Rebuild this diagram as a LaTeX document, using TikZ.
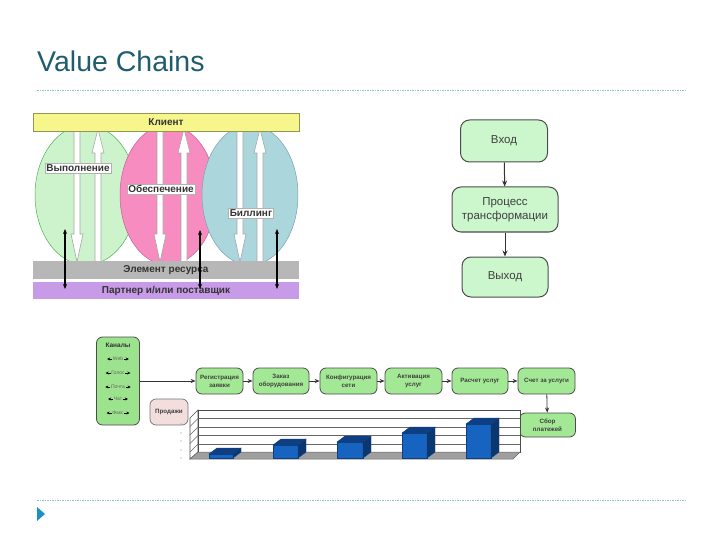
\documentclass[tikz,border=0pt]{standalone}
\usepackage{fontspec}
\setmainfont{Liberation Sans}
\usetikzlibrary{arrows.meta,calc}
\definecolor{titlec}{HTML}{1F5C6E}
\definecolor{dashc}{HTML}{8CC4C8}
\definecolor{tri}{HTML}{1A8FC8}
\definecolor{yel}{HTML}{F6F68C}
\definecolor{elgreen}{HTML}{CCF3CC}
\definecolor{elpink}{HTML}{F78CC0}
\definecolor{elblue}{HTML}{AAD6DC}
\definecolor{resgray}{HTML}{B7B7B7}
\definecolor{purp}{HTML}{C79BE8}
\definecolor{flowg}{HTML}{CCF6CC}
\definecolor{boxg}{HTML}{A3E894}
\definecolor{chang}{HTML}{9BE38C}
\definecolor{salesp}{HTML}{F3DEDE}
\definecolor{barf}{HTML}{1763C0}
\definecolor{bard}{HTML}{0E3F82}
\newcommand\hollowdown[3]{\draw[warrow] (#1-3,#2) -- (#1+3,#2) -- (#1+3,#3-28) -- (#1+6,#3-28) -- (#1,#3) -- (#1-6,#3-28) -- (#1-3,#3-28) -- cycle;}
\newcommand\hollowup[3]{\draw[warrow] (#1-3,#3) -- (#1+3,#3) -- (#1+3,#2+24) -- (#1+6,#2+24) -- (#1,#2) -- (#1-6,#2+24) -- (#1-3,#2+24) -- cycle;}
\newcommand\chartbar[4]{%
  \draw[bard,fill=barf,line width=0.4pt] (#1,#3) rectangle (#2,458);
  \draw[bard,fill=bard,line width=0.4pt] (#1,#3) -- (#1+8,#3-6) -- (#2+8,#3-6) -- (#2,#3) -- cycle;
  \draw[bard,fill=bard!85!black,line width=0.4pt] (#2,#3) -- (#2+8,#3-6) -- (#2+8,452) -- (#2,458) -- cycle;}
\begin{document}
\begin{tikzpicture}[x=1pt,y=-1pt,
  warrow/.style={fill=white,draw=gray!70,line width=0.6pt},
  barlab/.style={font=\fontsize{10}{11}\selectfont\bfseries,text=black!80},
  wlab/.style={fill=white,draw=gray!60,line width=0.5pt,inner sep=1.5pt,font=\fontsize{10}{11}\selectfont\bfseries,text=black!80},
  blk/.style={{Stealth[length=5pt,width=4pt]}-{Stealth[length=5pt,width=4pt]},line width=1.2pt,black},
  flow/.style={draw=black!70,line width=1pt,fill=flowg,rounded corners=9pt,align=center,font=\fontsize{11.5}{13.5}\selectfont,text=black!75},
  farrow/.style={-{Stealth[length=6pt,width=5pt]},line width=1pt,black!80},
  bbox/.style={draw=black!70,line width=0.8pt,fill=boxg,rounded corners=6pt,align=center,minimum height=26pt,inner sep=0.5pt,font=\fontsize{6.2}{8}\selectfont\bfseries,text=black!75},
  sarrow/.style={-{Stealth[length=5pt,width=4pt]},line width=0.8pt,black!80},
  chitem/.style={font=\fontsize{5}{6}\selectfont,text=black!60,inner sep=0.5pt},
  charr/.style={-{Stealth[length=3pt,width=3pt]},line width=0.5pt,black}
]
\useasboundingbox (0,0) rectangle (720,540);
% title and rules
\node[anchor=base west,inner sep=0,text=titlec,font=\fontsize{28.5}{32}\selectfont] (title) at (37,72) {Value Chains};
\draw[dashc,dash pattern=on 1.5pt off 1pt,line width=0.7pt] (37,90) -- (685,90);
\draw[dashc,dash pattern=on 1.5pt off 1pt,line width=0.7pt] (37,500) -- (685,500);
\fill[tri] (37,507) -- (45,514) -- (37,521) -- cycle;

% left diagram
\draw[fill=elgreen,draw=green!40!gray,line width=0.5pt] (86,195) ellipse [x radius=51pt,y radius=70pt];
\draw[fill=elpink,draw=magenta!50!gray,line width=0.5pt] (168,195) ellipse [x radius=48pt,y radius=70pt];
\draw[fill=elblue,draw=cyan!30!gray,line width=0.5pt] (250,195) ellipse [x radius=48pt,y radius=70pt];
\hollowdown{77}{131}{262}
\hollowup{98}{129}{262}
\hollowdown{160}{131}{262}
\hollowup{184}{129}{262}
\hollowdown{240}{131}{262}
\hollowup{260}{129}{262}
\node[draw=yel!60!black,line width=0.5pt,fill=yel,minimum width=266pt,minimum height=18pt,inner sep=0,barlab] (client) at (166,122) {Клиент};
\node[fill=resgray,minimum width=266pt,minimum height=18pt,inner sep=0,barlab] (res) at (166,270) {Элемент ресурса};
\node[fill=purp,minimum width=266pt,minimum height=17pt,inner sep=0,barlab] (partner) at (166,290.5) {Партнер и/или поставщик};
\node[wlab] (vyp) at (78,168) {Выполнение};
\node[wlab] (obes) at (161,189) {Обеспечение};
\node[wlab] (bill) at (251,213) {Биллинг};
\coordinate (a1t) at (65,229); \coordinate (a1b) at (65,289);
\coordinate (a2t) at (200,230); \coordinate (a2b) at (200,289);
\coordinate (a3t) at (277,229); \coordinate (a3b) at (277,289);
\draw[blk] (a1t) -- (a1b);
\draw[blk] (a2t) -- (a2b);
\draw[blk] (a3t) -- (a3b);

% right flowchart
\node[flow,minimum width=87pt,minimum height=42pt] (vhod) at (504,141) {Вход};
\node[flow,minimum width=106pt,minimum height=45pt,inner sep=1pt] (proc) at (505,209.5) {Процесс\\трансформации};
\node[flow,minimum width=86pt,minimum height=40pt] (vyhod) at (505,277) {Выход};
\draw[farrow] (vhod) -- (proc);
\draw[farrow] (proc) -- (vyhod);

% bottom: channels
\node[draw=black!70,line width=0.8pt,fill=chang,rounded corners=6pt,minimum width=43pt,minimum height=88pt] (chan) at (118,381) {};
\node[font=\fontsize{6.5}{7}\selectfont\bfseries,text=black!80,inner sep=0] (chtitle) at (118,345) {Каналы};
\foreach \lab/\yy [count=\i] in {Web/359,Голос/373,Почта/387,Чат/399,Факс/413}{
  \node[chitem] (ch\i) at (118,\yy) {\lab};
  \draw[charr] (ch\i.west) -- ++(-5,0);
  \draw[charr] (ch\i.east) -- ++(5,0);
}
% bottom: process row
\node[bbox,minimum width=47pt] (reg) at (219.5,381) {Регистрация\\заявки};
\node[bbox,minimum width=56pt] (zak) at (281,381) {Заказ\\оборудования};
\node[bbox,minimum width=57pt] (konf) at (348.5,381) {Конфигурация\\сети};
\node[bbox,minimum width=57pt] (akt) at (413.5,381) {Активация\\услуг};
\node[bbox,minimum width=56pt] (rasch) at (480,381) {Расчет услуг};
\node[bbox,minimum width=57pt] (schet) at (546.5,381) {Счет за услуги};
\node[bbox,minimum width=56pt,minimum height=24pt] (sbor) at (547.5,425) {Сбор\\платежей};
\node[draw=black!55,line width=0.7pt,fill=salesp,rounded corners=6pt,minimum width=38pt,minimum height=26pt,inner sep=0.5pt,font=\fontsize{6.2}{8}\selectfont\bfseries,text=black!75] (sales) at (169,412) {Продажи};
\draw[sarrow] (chan.east |- reg.west) -- (reg.west);
\draw[sarrow] (reg) -- (zak);
\draw[sarrow] (zak) -- (konf);
\draw[sarrow] (konf) -- (akt);
\draw[sarrow] (akt) -- (rasch);
\draw[sarrow] (rasch) -- (schet);
\draw[sarrow] (schet) -- (sbor);

% chart
\draw[black!70,fill=white,line width=0.6pt] (190,418) -- (198,410) -- (198,452) -- (190,459) -- cycle;
\draw[black!70,fill=white,line width=0.6pt] (198,410) rectangle (520,452);
\foreach \yy in {418.5,427,435.5,444}{
  \draw[black!60,line width=0.5pt] (198,\yy) -- (520,\yy);
  \draw[black!60,line width=0.5pt] (190,\yy+8) -- (198,\yy);
}
\draw[black!60,fill=gray!75,line width=0.5pt] (190,459) -- (198,452) -- (520,452) -- (513,459) -- cycle;
\foreach \yy in {424,433,441,450,458}{ \fill[black!50] (181,\yy) circle (0.6pt); }
\chartbar{209}{233}{454}{1}
\chartbar{273}{298}{445}{2}
\chartbar{337}{363}{442}{3}
\chartbar{402}{427}{433}{4}
\chartbar{466}{491}{424}{5}
\end{tikzpicture}
\end{document}
